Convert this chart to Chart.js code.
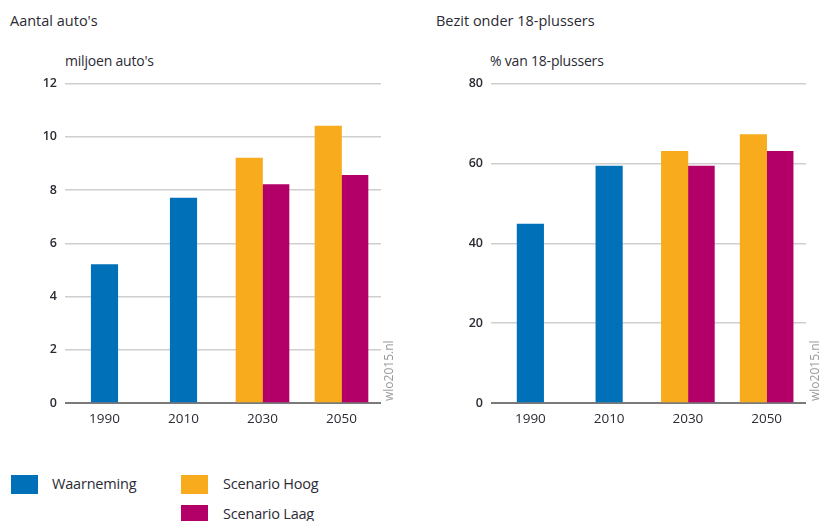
<!DOCTYPE html>
<html>
<head>
<meta charset="utf-8">
<script src="https://cdn.jsdelivr.net/npm/chart.js@4"></script>
<style>
    body { margin: 0; width: 822px; height: 521px; background: #fff; position: relative; overflow: hidden;
           font-family: "Open Sans", sans-serif; color: #2b2b35; }
    .txt { position: absolute; white-space: nowrap; }
    .title { font-size: 14.5px; }
    .unit { font-size: 14px; letter-spacing: -0.2px; }
    .wm { position: absolute; font-size: 12px; color: #9a9a9a; transform: rotate(-90deg); transform-origin: left top; }
    .box { position: absolute; width: 27px; height: 19px; }
    .leg { font-size: 14.5px; letter-spacing: -0.2px; }
    .wrap { position: absolute; }
</style>
</head>
<body>
<div class="txt title" style="left:10px; top:11px;">Aantal auto's</div>
<div class="txt unit" style="left:65px; top:51px;">miljoen auto's</div>
<div class="txt title" style="left:436px; top:11px;">Bezit onder 18-plussers</div>
<div class="txt unit" style="left:490px; top:51px;">% van 18-plussers</div>

<div class="wrap" style="left:0; top:68px; width:410px; height:365px;"><canvas id="autoChart"></canvas></div>
<div class="wrap" style="left:420px; top:68px; width:402px; height:365px;"><canvas id="bezitChart"></canvas></div>

<div class="wm" style="left:380px; top:401px;">wlo2015.nl</div>
<div class="wm" style="left:806px; top:401px;">wlo2015.nl</div>

<div class="box" style="left:11px; top:475px; background:#0070b8;"></div>
<div class="txt leg" style="left:52px; top:474px;">Waarneming</div>
<div class="box" style="left:181px; top:475px; background:#f8ab1d;"></div>
<div class="txt leg" style="left:223px; top:474px;">Scenario Hoog</div>
<div class="box" style="left:181px; top:505px; background:#b20068;"></div>
<div class="txt leg" style="left:223px; top:504px;">Scenario Laag</div>

<script>
// ===== DATA =====
const years = ["1990", "2010", "2030", "2050"];

const autoWaarneming = [5.2, 7.7, null, null];
const autoHoog = [null, null, 9.2, 10.4];
const autoLaag = [null, null, 8.2, 8.55];

const bezitWaarneming = [44.8, 59.3, null, null];
const bezitHoog = [null, null, 63.0, 67.2];
const bezitLaag = [null, null, 59.3, 63.0];

const autoTicks = { max: 12, step: 2 };
const bezitTicks = { max: 80, step: 20 };

const BLUE = "#0070b8";
const ORANGE = "#f8ab1d";
const MAGENTA = "#b20068";

// ===== BUILD CHART =====
function makeChart(id, waarneming, hoog, laag, ticks, leftWidth, rightPad) {
    const ctx = document.getElementById(id);
    return new Chart(ctx, {
        type: "bar",
        data: {
            labels: years,
            datasets: [
                { label: "Waarneming", data: waarneming, backgroundColor: BLUE },
                { label: "Scenario Hoog", data: hoog, backgroundColor: ORANGE },
                { label: "Scenario Laag", data: laag, backgroundColor: MAGENTA }
            ]
        },
        options: {
            responsive: true,
            maintainAspectRatio: false,
            animation: false,
            skipNull: true,
            barThickness: 26.5,
            layout: { padding: { top: 12, right: rightPad, left: 0, bottom: 0 } },
            plugins: {
                legend: { display: false },
                tooltip: { enabled: false }
            },
            scales: {
                x: {
                    grid: { display: false },
                    border: { display: false },
                    ticks: { color: "#2b2b35", font: { family: "Open Sans", size: 13.5 }, padding: 0 },
                    afterFit: s => { s.height = 30; }
                },
                y: {
                    min: 0,
                    max: ticks.max,
                    border: { display: false },
                    grid: {
                        drawTicks: false,
                        color: c => c.tick.value === 0 ? "#7a7a7a" : "#cfcfcf",
                        lineWidth: c => c.tick.value === 0 ? 2 : 1.5
                    },
                    ticks: {
                        stepSize: ticks.step,
                        padding: 8,
                        color: "#2b2b35",
                        font: { family: "Open Sans", size: 12.5, weight: "600" }
                    },
                    afterFit: s => { s.width = leftWidth; }
                }
            }
        }
    });
}

makeChart("autoChart", autoWaarneming, autoHoog, autoLaag, autoTicks, 65, 29);
makeChart("bezitChart", bezitWaarneming, bezitHoog, bezitLaag, bezitTicks, 71, 16);
</script>
</body>
</html>
